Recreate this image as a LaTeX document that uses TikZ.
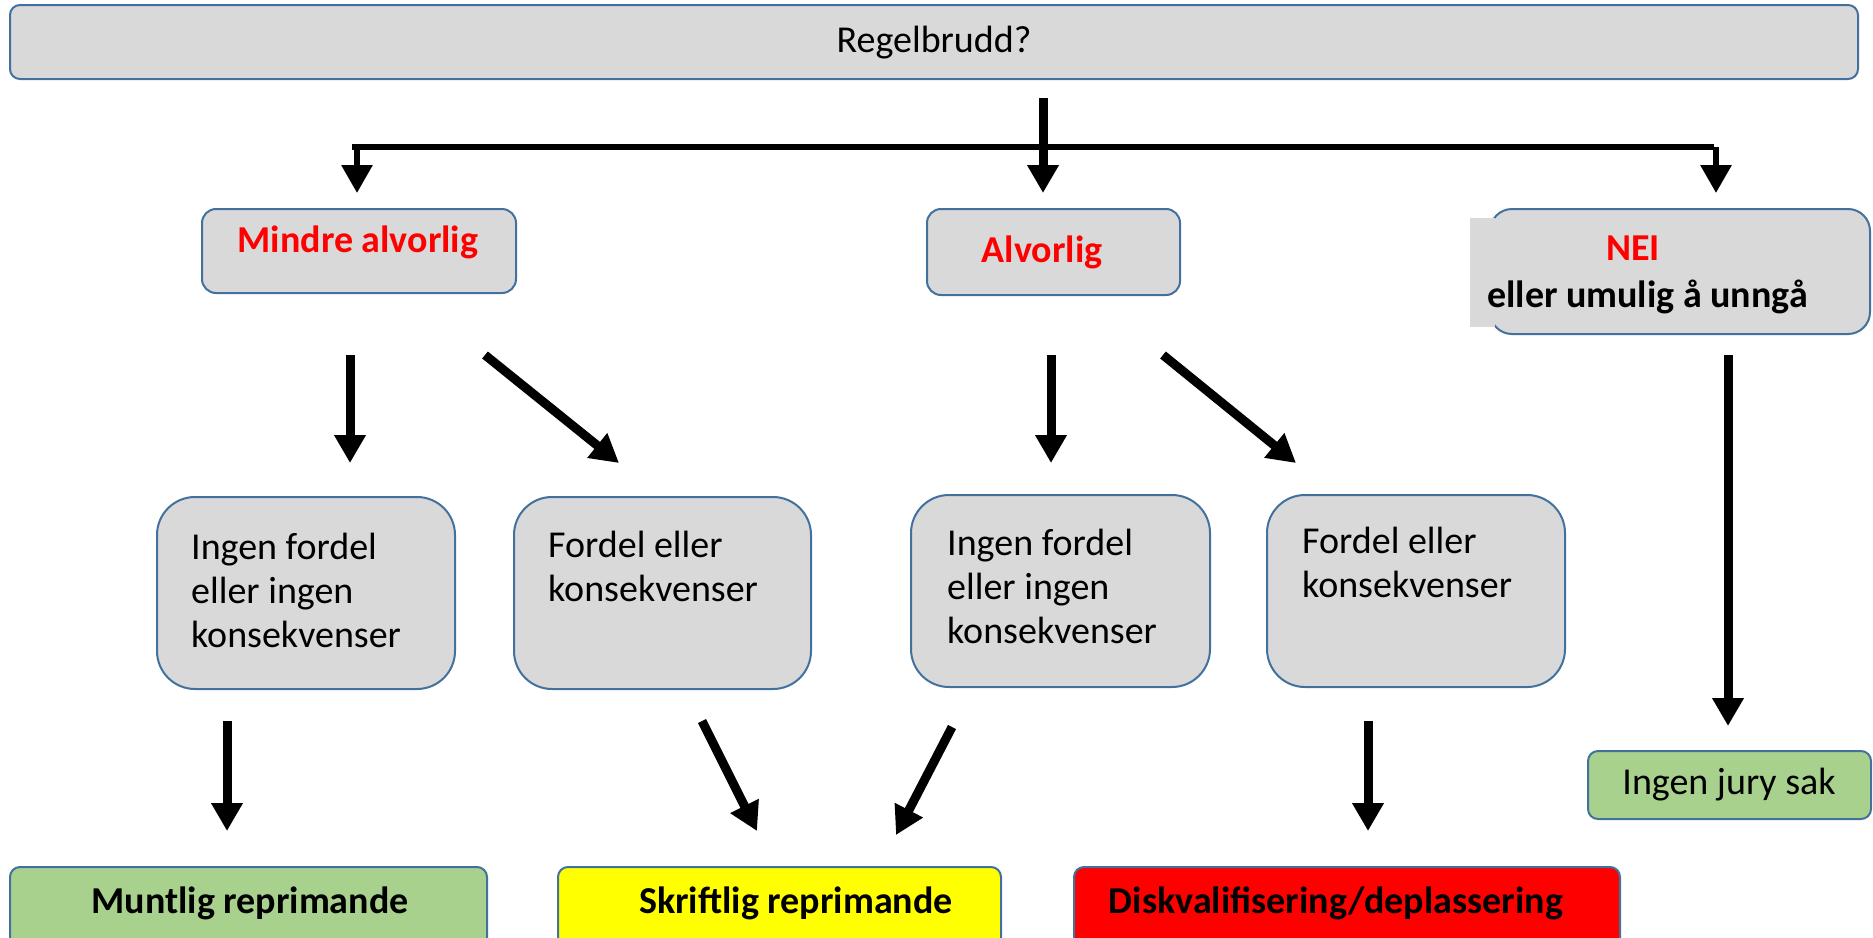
\documentclass[tikz,border=0pt]{standalone}
\usepackage{fontspec}
\setmainfont{Carlito}
\usetikzlibrary{arrows.meta}
\definecolor{boxgray}{RGB}{217,217,217}
\definecolor{edgeblue}{RGB}{65,113,156}
\definecolor{okgreen}{RGB}{169,209,142}
\definecolor{warnyellow}{RGB}{255,255,0}
\definecolor{alarmred}{RGB}{255,0,0}
\begin{document}
\begin{tikzpicture}[x=1pt,y=-1pt,
  box/.style={draw=edgeblue, line width=2pt, fill=boxgray, inner sep=0pt},
  txt/.style={inner sep=0pt, font=\fontsize{38}{44}\selectfont},
  btxt/.style={txt, font=\fontsize{38}{44}\selectfont\bfseries},
  rtxt/.style={btxt, text=alarmred},
  arr/.style={line width=9pt, -{Triangle[length=28pt,width=30pt]}},
  thinarr/.style={line width=6pt, -{Triangle[length=28pt,width=30pt]}},
  bar/.style={line width=6pt}]
\clip (0,0) rectangle (1873,937);
\fill[white] (0,0) rectangle (1873,937);

% top box
\node[box, rounded corners=10pt, minimum width=1848pt, minimum height=74pt] (top) at (934,42) {};
\node[txt] (toptxt) at (934,43) {Regelbrudd?};

% level 1 boxes
\node[box, rounded corners=14pt, minimum width=314pt, minimum height=84pt] (mindre) at (359,251) {};
\node[rtxt] (mindretxt) at (358,242) {Mindre alvorlig};
\node[box, rounded corners=14pt, minimum width=253pt, minimum height=86pt] (alv) at (1053.5,252) {};
\node[rtxt] (alvtxt) at (1042,252) {Alvorlig};
\node[box, rounded corners=22pt, minimum width=380pt, minimum height=125pt] (nei) at (1680,271.5) {};
\fill[boxgray] (1470,218) rectangle (1495,327);
\node[rtxt] (neitxt) at (1633,248) {NEI};
\node[btxt, anchor=west] (neitxt2) at (1487,297) {eller umulig å unngå};

% level 2 boxes
\node[box, rounded corners=38pt, minimum width=298pt, minimum height=192pt] (a) at (306,593) {};
\node[box, rounded corners=38pt, minimum width=297pt, minimum height=192pt] (b) at (662.5,593) {};
\node[box, rounded corners=38pt, minimum width=299pt, minimum height=192pt] (c) at (1060.5,591) {};
\node[box, rounded corners=38pt, minimum width=298pt, minimum height=192pt] (d) at (1416,591) {};
\node[txt, align=left, anchor=west] (atxt) at (191,590) {Ingen fordel\\eller ingen\\konsekvenser};
\node[txt, align=left, anchor=west] (btxtn) at (548,566) {Fordel eller\\konsekvenser};
\node[txt, align=left, anchor=west] (ctxt) at (947,586) {Ingen fordel\\eller ingen\\konsekvenser};
\node[txt, align=left, anchor=west] (dtxt) at (1302,562) {Fordel eller\\konsekvenser};

% results
\node[box, fill=okgreen, rounded corners=10pt, minimum width=477pt, minimum height=93pt] (munt) at (248.5,913.5) {};
\node[btxt] (munttxt) at (250,903) {Muntlig reprimande};
\node[box, fill=warnyellow, rounded corners=10pt, minimum width=443pt, minimum height=93pt] (skrift) at (779.5,913.5) {};
\node[btxt] (skrifttxt) at (796,903) {Skriftlig reprimande};
\node[box, fill=alarmred, rounded corners=10pt, minimum width=546pt, minimum height=93pt] (disk) at (1347,913.5) {};
\node[btxt] (disktxt) at (1336,903) {Diskvalifisering/deplassering};
\node[box, fill=okgreen, rounded corners=10pt, minimum width=283pt, minimum height=68pt] (jury) at (1729.5,785) {};
\node[txt] (jurytxt) at (1729,785) {Ingen jury sak};

% connector coordinates
\coordinate (s0) at (1043,98);
\coordinate (s1) at (1043,193);
\coordinate (hl) at (352,147);
\coordinate (hr) at (1714,147);
\coordinate (l0) at (357,147);
\coordinate (l1) at (357,193);
\coordinate (r0) at (1716,147);
\coordinate (r1) at (1716,193);

\coordinate (m1a) at (350,355); \coordinate (m1b) at (350,463);
\coordinate (m2a) at (485,355); \coordinate (m2b) at (619,463);
\coordinate (a1a) at (1051,355); \coordinate (a1b) at (1051,463);
\coordinate (a2a) at (1163,355); \coordinate (a2b) at (1296,463);
\coordinate (n1a) at (1728,355); \coordinate (n1b) at (1728,726);

\coordinate (aa) at (227,721); \coordinate (ab) at (227,831);
\coordinate (ba) at (702,721); \coordinate (bb) at (757,831);
\coordinate (ca) at (952,727); \coordinate (cb) at (896,835);
\coordinate (da) at (1368,721); \coordinate (db) at (1368,831);

\draw[bar] (hl) -- (hr);
\draw[arr] (s0) -- (s1);
\draw[thinarr] (l0) -- (l1);
\draw[thinarr] (r0) -- (r1);

\draw[arr] (m1a) -- (m1b);
\draw[arr] (m2a) -- (m2b);
\draw[arr] (a1a) -- (a1b);
\draw[arr] (a2a) -- (a2b);
\draw[arr] (n1a) -- (n1b);
\draw[arr] (aa) -- (ab);
\draw[arr] (ba) -- (bb);
\draw[arr] (ca) -- (cb);
\draw[arr] (da) -- (db);
\end{tikzpicture}
\end{document}
